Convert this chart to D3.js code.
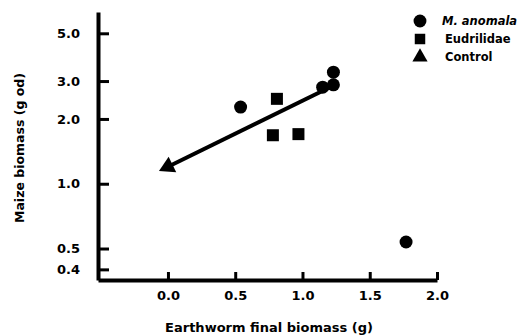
<!DOCTYPE html>
<html>
<head>
<meta charset="utf-8">
<script src="https://cdn.jsdelivr.net/npm/d3@7"></script>
<style>
  body { margin: 0; background: #fff; }
  svg text { font-family: "DejaVu Sans", sans-serif; font-weight: bold; }
</style>
</head>
<body>
<div id="chart"></div>
<script>
// M. anomala treatments
const anomalaX = [0.54, 1.15, 1.23, 1.23, 1.77];
const anomalaY = [2.27, 2.81, 2.88, 3.30, 0.536];
// Eudrilidae treatments
const eudrilX = [0.81, 0.78, 0.97];
const eudrilY = [2.48, 1.68, 1.70];
// Control
const controlX = [0.0];
const controlY = [1.2];
// fitted line (from upper end down to the control)
const lineX = [1.25, 0.0];
const lineY = [2.9, 1.2];

const xTicks = [0, 0.5, 1.0, 1.5, 2.0];
const yTicks = [0.4, 0.5, 1.0, 2.0, 3.0, 5.0];
const legendLabels = ['M. anomala', 'Eudrilidae', 'Control'];

const width = 526, height = 335;
const svg = d3.select('#chart').append('svg')
  .attr('width', width).attr('height', height);

const x = d3.scaleLinear().domain([-0.52, 2.0]).range([98, 437]);
const y = d3.scaleLog().domain([0.357, 6.28]).range([280, 12]);

// X axis
const gx = svg.append('g')
  .attr('transform', `translate(0,${y.range()[0]})`)
  .call(d3.axisBottom(x).tickValues(xTicks).tickSize(-8).tickSizeOuter(0)
    .tickFormat(d3.format('.1f')));
gx.select('.domain').style('stroke-width', 4);
gx.selectAll('.tick line').style('stroke-width', 3);
gx.selectAll('.tick text')
  .attr('y', 11).style('font-size', '13px');

// Y axis
const gy = svg.append('g')
  .attr('transform', `translate(${x.range()[0]},0)`)
  .call(d3.axisLeft(y).tickValues(yTicks).tickSize(-11).tickSizeOuter(0)
    .tickFormat(d3.format('.1f')));
gy.select('.domain').style('stroke-width', 4);
gy.selectAll('.tick line').style('stroke-width', 3);
gy.selectAll('.tick text')
  .attr('x', -18).style('font-size', '13px');

// Axis titles
svg.append('text')
  .attr('x', 269).attr('y', 332)
  .attr('text-anchor', 'middle').style('font-size', '13px')
  .text('Earthworm final biomass (g)');

svg.append('text')
  .attr('transform', 'translate(24,148) rotate(-90)')
  .attr('text-anchor', 'middle').style('font-size', '12.5px')
  .text('Maize biomass (g od)');

// Fitted line
const linePts = lineX.map((d, i) => [x(d), y(lineY[i])]);
svg.append('path')
  .attr('d', d3.line()(linePts))
  .attr('fill', 'none').attr('stroke', '#000').attr('stroke-width', 4);

// Control marker drawn as arrowhead along the line
const ang = Math.atan2(linePts[1][1] - linePts[0][1], linePts[1][0] - linePts[0][0]) * 180 / Math.PI;
svg.selectAll('.ctrl')
  .data(controlX.map((d, i) => ({ x: d, y: controlY[i] })))
  .enter().append('path')
  .attr('d', d3.symbol(d3.symbolTriangle, 130)())
  .attr('transform', d => `translate(${x(d.x)},${y(d.y)}) rotate(${ang + 90})`)
  .attr('fill', '#000');

// Eudrilidae squares
svg.selectAll('.sq')
  .data(eudrilX.map((d, i) => ({ x: d, y: eudrilY[i] })))
  .enter().append('rect')
  .attr('x', d => x(d.x) - 6).attr('y', d => y(d.y) - 6)
  .attr('width', 12).attr('height', 12)
  .attr('fill', '#000');

// M. anomala circles
svg.selectAll('.dot')
  .data(anomalaX.map((d, i) => ({ x: d, y: anomalaY[i] })))
  .enter().append('circle')
  .attr('cx', d => x(d.x)).attr('cy', d => y(d.y))
  .attr('r', 6.5).attr('fill', '#000');

// Legend
const legendSymbols = [d3.symbolCircle, d3.symbolSquare, d3.symbolTriangle];
const legendSizes = [130, 110, 100];
const lg = svg.append('g');
legendLabels.forEach((label, i) => {
  const row = lg.append('g').attr('transform', `translate(420,${21 + i * 18})`);
  row.append('path')
    .attr('d', d3.symbol(legendSymbols[i], legendSizes[i])())
    .attr('fill', '#000');
  row.append('text')
    .attr('x', i === 0 ? 22 : 25).attr('y', 4)
    .style('font-size', '11.5px')
    .style('font-style', i === 0 ? 'italic' : 'normal')
    .text(label);
});
</script>
</body>
</html>
